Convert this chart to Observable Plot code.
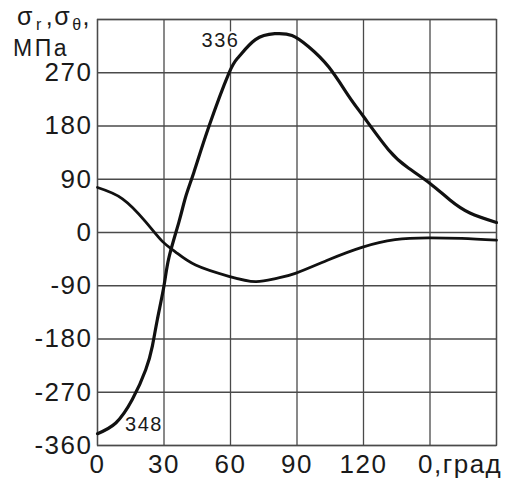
<!DOCTYPE html>
<html>
<head>
<meta charset="utf-8">
<script src="https://cdn.jsdelivr.net/npm/d3@7"></script>
<script src="https://cdn.jsdelivr.net/npm/@observablehq/plot@0.6"></script>
<style>
  html, body { margin: 0; padding: 0; background: #fff; }
  #chart { width: 506px; height: 478px; }
</style>
</head>
<body>
<div id="chart"></div>
<script>
// σθ (large curve)
const thetaA = [0, 8.25, 15.75, 21.75, 24.75, 27, 30, 32.25, 36.75, 39.75, 43.5, 50.25, 59.25, 63.75, 71.25, 80, 87.75, 95.25, 104.25, 113.25, 120, 131.25, 140.25, 150, 159, 168, 180];
const sigmaTheta = [-340, -322, -282, -232, -192, -147, -90, -42, 18, 60, 102, 179, 269, 297, 326, 336, 333, 314, 280, 231, 196, 140, 109, 83, 55, 33, 17];
// σr (small curve)
const thetaB = [0, 11.25, 21.75, 29.25, 35.25, 44.25, 59.25, 71.25, 80.25, 89.25, 104.25, 119.25, 134.25, 149.25, 164.25, 180];
const sigmaR = [76, 57, 18, -15, -33, -55, -74, -83, -78, -69, -46, -25, -12, -9, -10, -13];

const xTicks = [0, 30, 60, 90, 120];
const xTickLabels = ["0", "30", "60", "90", "120"];
const xTitle = ["0,град"];
const xTitleAt = [150];
const xGrid = [0, 30, 60, 90, 120, 150, 180];
const yTicks = [-360, -270, -180, -90, 0, 90, 180, 270];
const yGrid = [-360, -270, -180, -90, 0, 90, 180, 270, 360];

const annLabels = ["336", "348"];
const annTheta = [55.5, 21];
const annValue = [324, -324];

const seriesA = thetaA.map((t, i) => ({t, v: sigmaTheta[i]}));
const seriesB = thetaB.map((t, i) => ({t, v: sigmaR[i]}));
const ann = annLabels.map((s, i) => ({s, t: annTheta[i], v: annValue[i]}));

const font = "'Liberation Sans', Arial, Helvetica, sans-serif";
const gridColor = "#4a4a4a";

const chart = Plot.plot({
  width: 506,
  height: 478,
  marginLeft: 97,
  marginRight: 10,
  marginTop: 19,
  marginBottom: 33,
  style: {fontFamily: font, fontSize: "26px", background: "#fff", color: "#1a1a1a", letterSpacing: "1.5px"},
  x: {domain: [0, 180]},
  y: {domain: [-360, 360]},
  marks: [
    Plot.ruleX(xGrid, {stroke: gridColor, strokeWidth: 1.3}),
    Plot.ruleY(yGrid, {stroke: gridColor, strokeWidth: 1.3}),
    Plot.frame({stroke: gridColor, strokeWidth: 1.3}),
    Plot.axisX({ticks: xTicks, tickSize: 0, tickPadding: 9, tickFormat: (d) => xTickLabels[xTicks.indexOf(d)], label: null, fontSize: 26}),
    Plot.axisY({ticks: yTicks, tickSize: 0, tickPadding: 5, tickFormat: (d) => String(d).replace("−", "-"), label: null, fontSize: 26}),
    Plot.text(xTitle, {x: xTitleAt, text: (d) => d, frameAnchor: "bottom", lineAnchor: "top", dy: 9, dx: -12, textAnchor: "start", fontSize: 26, fill: "#1a1a1a"}),
    Plot.line(seriesB, {x: "t", y: "v", curve: "natural", stroke: "#111", strokeWidth: 2.8}),
    Plot.line(seriesA, {x: "t", y: "v", curve: "natural", stroke: "#111", strokeWidth: 3.2}),
    Plot.text(ann, {x: "t", y: "v", text: "s", fontSize: 20, fill: "#1a1a1a", stroke: "#fff", strokeWidth: 4, paintOrder: "stroke"})
  ]
});

document.getElementById("chart").appendChild(chart);

// Y-axis unit title (with subscripts) in the top-left corner
const svg = d3.select(chart);
const t1 = svg.append("text")
  .attr("x", 17).attr("y", 25)
  .attr("text-anchor", "start")
  .attr("font-family", font).attr("font-size", 25).attr("fill", "#1a1a1a");
t1.append("tspan").text("σ");
t1.append("tspan").attr("font-size", 16).attr("dy", 5).attr("dx", 2).text("r");
t1.append("tspan").attr("dy", -5).attr("dx", 3).text(",σ");
t1.append("tspan").attr("font-size", 16).attr("dy", 5).attr("dx", 1).text("θ");
t1.append("tspan").attr("dy", -5).text(",");

svg.append("text")
  .attr("x", 13).attr("y", 56)
  .attr("text-anchor", "start")
  .attr("font-family", font).attr("font-size", 23)
  .attr("letter-spacing", "2.5px").attr("fill", "#1a1a1a")
  .text("МПа");
</script>
</body>
</html>
